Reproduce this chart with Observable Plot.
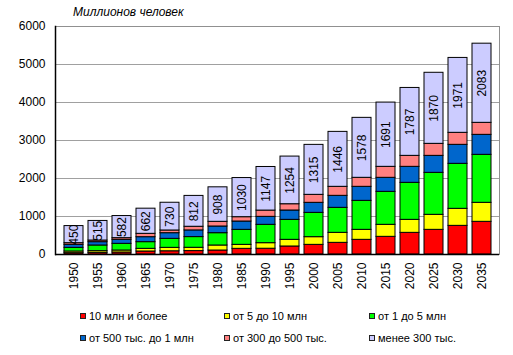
<!DOCTYPE html>
<html><head><meta charset="utf-8">
<script src="https://cdn.jsdelivr.net/npm/d3@7"></script>
<script src="https://cdn.jsdelivr.net/npm/@observablehq/plot@0.6"></script>
<style>
body{margin:0;background:#fff;font-family:"Liberation Sans",Arial,sans-serif;}
#wrap{position:relative;width:513px;height:355px;overflow:hidden}
#title{position:absolute;left:73px;top:5px;font-size:12px;font-style:italic;color:#000}
.item{position:absolute;font-size:11px;display:flex;align-items:center;white-space:nowrap;color:#000;line-height:12px}
.sw{width:4px;height:4px;border:1px solid #222;margin-right:3px}
</style></head>
<body><div id="wrap"><div id="chart"></div><div id="title">Миллионов человек</div><div id="legend"></div></div>
<script>
const years = ["1950","1955","1960","1965","1970","1975","1980","1985","1990","1995","2000","2005","2010","2015","2020","2025","2030","2035"];
const over10M   = [35,44,53,79,85,90,105,149,152,211,254,307,386,465,570,649,754,860];
const from5to10 = [44,44,52,70,90,87,132,105,146,175,202,263,263,316,342,395,448,500];
const from1to5  = [96,149,176,176,237,281,324,395,483,526,640,658,763,868,974,1105,1184,1263];
const from500k  = [79,88,105,131,149,176,176,219,210,246,264,316,369,369,421,447,500,526];
const from300k  = [44,43,44,88,71,96,123,114,165,165,210,237,237,289,289,316,316,316];
const under300k = [450,515,582,662,730,812,908,1030,1147,1254,1315,1446,1578,1691,1787,1870,1971,2083];
const seriesNames = ["10 млн и более","от 5 до 10 млн","от 1 до 5 млн","от 500 тыс. до 1 млн","от 300 до 500 тыс.","менее 300 тыс."];
const seriesColors = ["#FF0000","#FFFF00","#00FF00","#0066CC","#FF8080","#CCCCFF"];
const yTicks = [0,1000,2000,3000,4000,5000,6000];

const seriesValues = [over10M, from5to10, from1to5, from500k, from300k, under300k];
const rows = [];
seriesNames.forEach((name, si) => {
  years.forEach((yr, i) => rows.push({year: yr, cat: name, value: seriesValues[si][i]}));
});
const labels = years.map((yr, i) => {
  const base = over10M[i] + from5to10[i] + from1to5[i] + from500k[i] + from300k[i];
  return {year: yr, y: base + under300k[i] / 2, text: String(under300k[i])};
});

const chart = Plot.plot({
  width: 513, height: 300,
  marginLeft: 55, marginRight: 14, marginTop: 26, marginBottom: 46,
  style: {fontFamily: '"Liberation Sans", Arial, sans-serif', fontSize: "12px", color: "#000", background: "#fff"},
  x: {domain: years, padding: 0.22, label: null},
  y: {domain: [0, 6000], label: null},
  color: {domain: seriesNames, range: seriesColors},
  marks: [
    Plot.ruleY(yTicks.slice(1), {stroke: "#a0a0a0", strokeWidth: 1}),
    Plot.frame({stroke: "#909090"}),
    Plot.barY(rows, {x: "year", y: "value", fill: "cat", stroke: "#000", strokeWidth: 1, inset: 0}),
    Plot.text(labels, {x: "year", y: "y", text: "text", rotate: -90, fontSize: 12, fill: "#000"}),
    Plot.ruleY([0], {stroke: "#000", strokeWidth: 1.5}),
    Plot.frame({anchor: "left", stroke: "#000", strokeWidth: 1.5}),
    Plot.axisY(yTicks, {tickSize: 0, tickPadding: 10, fontSize: 12, label: null, tickFormat: d => String(d)}),
    Plot.axisX({tickSize: 0, tickPadding: 8, tickRotate: -90, fontSize: 12, label: null})
  ]
});
document.getElementById("chart").appendChild(chart);

const legendPos = [[80,316],[224,316],[369,316],[80,338],[224,338],[369,338]];
const leg = document.getElementById("legend");
seriesNames.forEach((name, i) => {
  const d = document.createElement("div");
  d.className = "item";
  d.style.left = legendPos[i][0] + "px";
  d.style.top = (legendPos[i][1] - 6) + "px";
  const sw = document.createElement("span");
  sw.className = "sw";
  sw.style.background = seriesColors[i];
  d.appendChild(sw);
  d.appendChild(document.createTextNode(name));
  leg.appendChild(d);
});
</script></body></html>
